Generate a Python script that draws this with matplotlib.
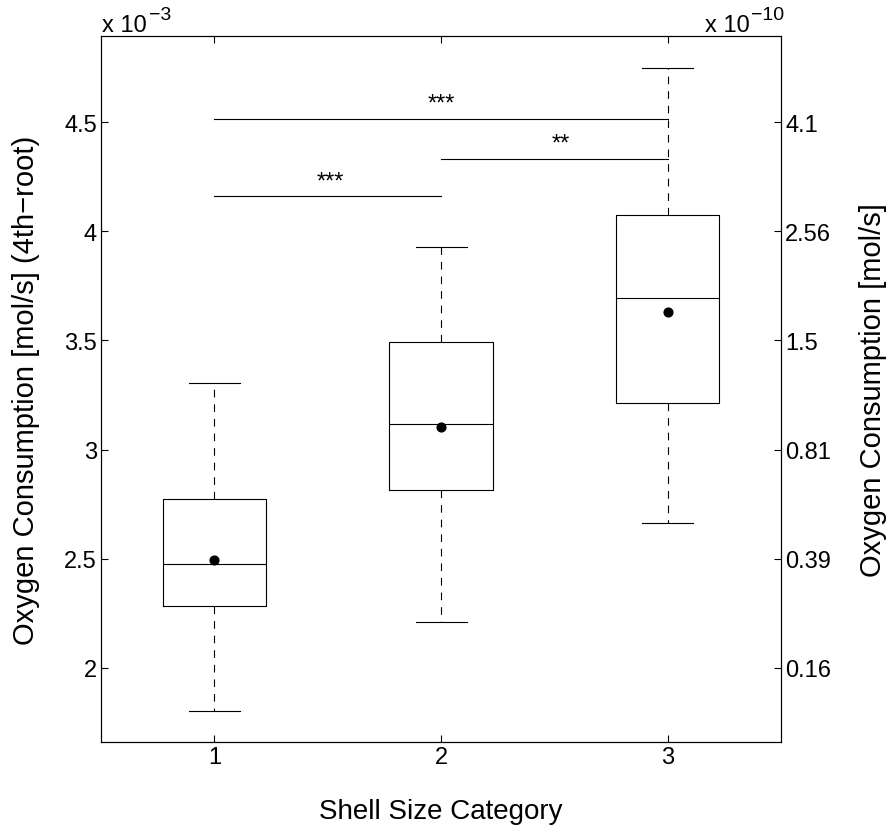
import matplotlib
matplotlib.use('Agg')
import matplotlib.pyplot as plt

plt.rcParams['font.family'] = ['Liberation Sans', 'DejaVu Sans']
plt.rcParams['mathtext.default'] = 'regular'
plt.rcParams['lines.scale_dashes'] = False

# box statistics (4th-root scale, x 1e-3)
categories = [1, 2, 3]
whis_lo = [1.805, 2.209, 2.665]
q1 = [2.283, 2.814, 3.215]
medians = [2.474, 3.117, 3.693]
q3 = [2.772, 3.491, 4.074]
whis_hi = [3.304, 3.929, 4.747]
means = [2.495, 3.102, 3.629]

# significance bars
sig_x0 = [1, 2, 1]
sig_x1 = [3, 3, 2]
sig_y = [4.514, 4.332, 4.161]
sig_text = ['***', '**', '***']
sig_text_x = [2.0, 2.53, 1.51]

left_ticks = [2, 2.5, 3, 3.5, 4, 4.5]
right_labels = ['0.16', '0.39', '0.81', '1.5', '2.56', '4.1']

stats = []
for i in range(len(categories)):
    stats.append({'whislo': whis_lo[i], 'q1': q1[i], 'med': medians[i],
                  'q3': q3[i], 'whishi': whis_hi[i], 'mean': means[i],
                  'fliers': []})

W, H = 889, 829
fig = plt.figure(figsize=(W / 100, H / 100), dpi=100)
ax = fig.add_axes([101 / W, 1 - 743 / H, 680 / W, 706 / H])

lw = 0.8
ax.bxp(stats, positions=categories, widths=0.455, capwidths=0.225,
       showmeans=True, showfliers=False,
       boxprops=dict(color='k', lw=lw),
       medianprops=dict(color='k', lw=lw),
       whiskerprops=dict(color='k', lw=lw, linestyle=(0, (5.5, 5))),
       capprops=dict(color='k', lw=lw),
       meanprops=dict(marker='o', markerfacecolor='k', markeredgecolor='k',
                      markersize=6.3))

for x0, x1, y, t, tx in zip(sig_x0, sig_x1, sig_y, sig_text, sig_text_x):
    ax.plot([x0, x1], [y, y], color='k', lw=lw)
    ax.annotate(t, xy=(tx, y), xytext=(0, 6.5), textcoords='offset points',
                ha='center', va='baseline', fontsize=17)

ax.set_xlim(0.5, 3.5)
ax.set_ylim(1.661, 4.894)
ax.set_xticks(categories)
ax.set_xticklabels([str(c) for c in categories])
ax.set_yticks(left_ticks)
ax.set_yticklabels([str(t) for t in left_ticks])
ax.tick_params(direction='in', length=5, width=0.8, labelsize=17, pad=3,
               top=True, right=False)
for s in ax.spines.values():
    s.set_linewidth(0.8)

ax2 = ax.twinx()
ax2.set_ylim(ax.get_ylim())
ax2.set_yticks(left_ticks)
ax2.set_yticklabels(right_labels)
ax2.tick_params(direction='in', length=5, width=0.8, labelsize=17, pad=3)

ax.set_xlabel('Shell Size Category', fontsize=20)
ax.set_ylabel('Oxygen Consumption [mol/s] (4th\u2212root)', fontsize=21)
ax2.set_ylabel('Oxygen Consumption [mol/s]', fontsize=21)
ax.xaxis.set_label_coords(0.5, -0.08)
ax.yaxis.set_label_coords(-0.09, 0.5)
ax2.yaxis.set_label_coords(1.115, 0.5)

# exponent labels, MATLAB style
fig.text(102 / W, 1 - 32 / H, 'x 10', fontsize=17, ha='left', va='baseline')
fig.text(149 / W, 1 - 20 / H, '\u22123', fontsize=14, ha='left', va='baseline')
fig.text(705 / W, 1 - 32 / H, 'x 10', fontsize=17, ha='left', va='baseline')
fig.text(751 / W, 1 - 20 / H, '\u221210', fontsize=14, ha='left', va='baseline')

fig.savefig('out.png', dpi=100)
